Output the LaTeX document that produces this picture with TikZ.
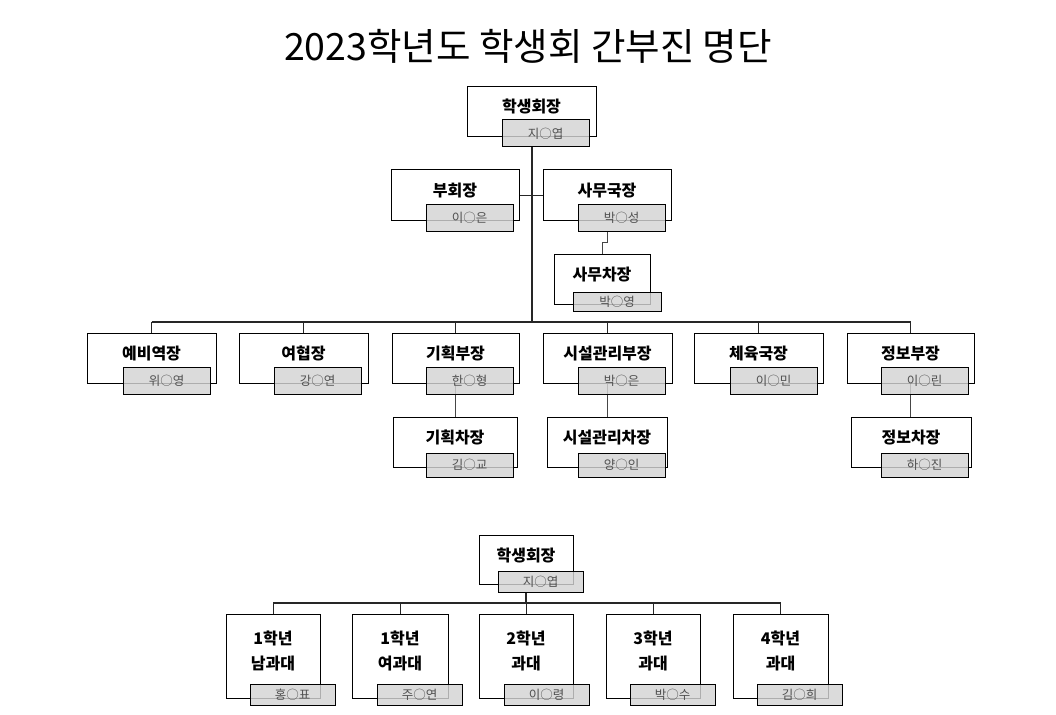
\documentclass[tikz,border=0pt]{standalone}
\usepackage{fontspec}
\setmainfont{Noto Sans CJK KR}
\usetikzlibrary{fit,calc}
\definecolor{boxgray}{RGB}{212,212,212}
\definecolor{namegray}{RGB}{80,80,80}
\definecolor{lineg}{RGB}{70,70,70}
\pgfdeclarelayer{bg}
\pgfdeclarelayer{paper}
\pgfsetlayers{paper,bg,main}
\begin{document}
\begin{tikzpicture}[x=1pt,y=-1pt,
  wbox/.style={draw=black, line width=1pt, fill=white, inner sep=0pt},
  gbox/.style={draw=black, line width=1pt, fill=boxgray, fill opacity=0.82, inner sep=0pt},
  lbl/.style={font=\bfseries\fontsize{16}{18}\selectfont, inner sep=0pt},
  lbl2/.style={font=\bfseries\fontsize{16}{25}\selectfont, inner sep=0pt, align=center},
  nm/.style={font=\fontsize{12.5}{14}\selectfont, text=namegray, inner sep=0pt},
  ttl/.style={font=\fontsize{37.5}{42}\selectfont, inner sep=0pt},
  trunk/.style={line width=2pt, draw=black!85},
  busline/.style={line width=1.4pt, draw=black!85},
  stub/.style={line width=1pt, draw=black!85},
  sub/.style={line width=1pt, draw=lineg},
]
\useasboundingbox (0,0) rectangle (1056,714);
\begin{pgfonlayer}{paper}
\fill[white] (0,0) rectangle (1056,714);
\end{pgfonlayer}

\node[ttl] (title) at (528,46) {2023학년도 학생회 간부진 명단};

% ---- top section: white boxes
\node[wbox, fit={(467,87)(596,137)}] (pres) {};
\node[wbox, fit={(391,170)(519,220)}] (vp) {};
\node[wbox, fit={(543,170)(671,220)}] (sg) {};
\node[wbox, fit={(554,254)(650,304)}] (sc) {};
\node[wbox, fit={(87,333)(216,383)}] (ye) {};
\node[wbox, fit={(239,333)(368,383)}] (yh) {};
\node[wbox, fit={(392,333)(519,383)}] (gh) {};
\node[wbox, fit={(543,333)(672,383)}] (sb) {};
\node[wbox, fit={(694,333)(823,383)}] (ch) {};
\node[wbox, fit={(847,333)(974,383)}] (jb) {};
\node[wbox, fit={(393,417)(517,467)}] (gc) {};
\node[wbox, fit={(547,417)(667,467)}] (scc) {};
\node[wbox, fit={(851,417)(971,467)}] (jc) {};

% ---- gray name boxes
\node[gbox, fit={(502,120)(589,147)}] (presg) {};
\node[gbox, fit={(426,204)(513,231)}] (vpg) {};
\node[gbox, fit={(578,204)(665,231)}] (sgg) {};
\node[gbox, fit={(573,292)(661,311)}] (scg) {};
\node[gbox, fit={(123,367)(210,394)}] (yeg) {};
\node[gbox, fit={(274,367)(361,394)}] (yhg) {};
\node[gbox, fit={(426,367)(513,394)}] (ghg) {};
\node[gbox, fit={(578,367)(665,394)}] (sbg) {};
\node[gbox, fit={(730,367)(817,394)}] (chg) {};
\node[gbox, fit={(881,367)(968,394)}] (jbg) {};
\node[gbox, fit={(426,453)(513,477)}] (gcg) {};
\node[gbox, fit={(578,453)(665,477)}] (sccg) {};
\node[gbox, fit={(881,453)(968,477)}] (jcg) {};

% ---- labels
\node[lbl] (presl) at ($(pres.north)+(0,20)$) {학생회장};
\node[lbl] (vpl) at ($(vp.north)+(0,21)$) {부회장};
\node[lbl] (sgl) at ($(sg.north)+(0,21)$) {사무국장};
\node[lbl] (scl) at ($(sc.north)+(0,21)$) {사무차장};
\node[lbl] (yel) at ($(ye.north)+(0,21)$) {예비역장};
\node[lbl] (yhl) at ($(yh.north)+(0,21)$) {여협장};
\node[lbl] (ghl) at ($(gh.north)+(0,21)$) {기획부장};
\node[lbl] (sbl) at ($(sb.north)+(0,21)$) {시설관리부장};
\node[lbl] (chl) at ($(ch.north)+(0,21)$) {체육국장};
\node[lbl] (jbl) at ($(jb.north)+(0,21)$) {정보부장};
\node[lbl] (gcl) at ($(gc.north)+(0,21)$) {기획차장};
\node[lbl] (sccl) at ($(scc.north)+(0,21)$) {시설관리차장};
\node[lbl] (jcl) at ($(jc.north)+(0,21)$) {정보차장};

% ---- names
\node[nm] (presn) at (presg.center) {지○엽};
\node[nm] (vpn) at (vpg.center) {이○은};
\node[nm] (sgn) at (sgg.center) {박○성};
\node[nm] (scn) at (scg.center) {박○영};
\node[nm] (yen) at (yeg.center) {위○영};
\node[nm] (yhn) at (yhg.center) {강○연};
\node[nm] (ghn) at (ghg.center) {한○형};
\node[nm] (sbn) at (sbg.center) {박○은};
\node[nm] (chn) at (chg.center) {이○민};
\node[nm] (jbn) at (jbg.center) {이○린};
\node[nm] (gcn) at (gcg.center) {김○교};
\node[nm] (sccn) at (sccg.center) {양○인};
\node[nm] (jcn) at (jcg.center) {하○진};

% ---- top connectors
\coordinate (hub) at (531,322);
\begin{pgfonlayer}{bg}
\draw[trunk] (pres.south |- presg.south) -- (pres.south |- hub);
\draw[busline] (ye.north |- hub) -- (jb.north |- hub);
\foreach \b in {ye,yh,gh,sb,ch,jb} \draw[stub] (\b.north) -- (\b.north |- hub);
\draw[stub] (vp.east) -- (sg.west);
\draw[sub] (sg.south |- sgg.south) -- ++(0,11) -| (sc.north);
\draw[sub] (gh.south) -- (gh.south |- gc.north);
\draw[sub] (sb.south) -- (sb.south |- scc.north);
\draw[sub] (jb.south) -- (jb.south |- jc.north);
\end{pgfonlayer}

% ---- bottom section
\node[wbox, fit={(479,535)(573,584)}] (pres2) {};
\node[wbox, fit={(226,614)(320,698)}] (y1m) {};
\node[wbox, fit={(352,614)(448,698)}] (y1f) {};
\node[wbox, fit={(479,614)(573,698)}] (y2) {};
\node[wbox, fit={(606,614)(700,698)}] (y3) {};
\node[wbox, fit={(733,614)(828,698)}] (y4) {};

\node[gbox, fit={(498,571)(583,592)}] (pres2g) {};
\node[gbox, fit={(250,684)(335,705)}] (y1mg) {};
\node[gbox, fit={(377,684)(462,705)}] (y1fg) {};
\node[gbox, fit={(504,684)(589,705)}] (y2g) {};
\node[gbox, fit={(630,684)(715,705)}] (y3g) {};
\node[gbox, fit={(757,684)(842,705)}] (y4g) {};

\node[lbl] (pres2l) at ($(pres2.north)+(0,21)$) {학생회장};
\node[lbl2] (y1ml) at ($(y1m.north)+(0,37)$) {1학년\\남과대};
\node[lbl2] (y1fl) at ($(y1f.north)+(0,37)$) {1학년\\여과대};
\node[lbl2] (y2l) at ($(y2.north)+(0,37)$) {2학년\\과대};
\node[lbl2] (y3l) at ($(y3.north)+(0,37)$) {3학년\\과대};
\node[lbl2] (y4l) at ($(y4.north)+(0,37)$) {4학년\\과대};

\node[nm] (pres2n) at (pres2g.center) {지○엽};
\node[nm] (y1mn) at (y1mg.center) {홍○표};
\node[nm] (y1fn) at (y1fg.center) {주○연};
\node[nm] (y2n) at (y2g.center) {이○령};
\node[nm] (y3n) at (y3g.center) {박○수};
\node[nm] (y4n) at (y4g.center) {김○희};

\coordinate (hub2) at (526,603);
\begin{pgfonlayer}{bg}
\draw[busline] (pres2.south |- pres2g.south) -- (pres2.south |- hub2);
\draw[busline] (y1m.north |- hub2) -- (y4.north |- hub2);
\foreach \b in {y1m,y1f,y2,y3,y4} \draw[stub] (\b.north) -- (\b.north |- hub2);
\end{pgfonlayer}
\end{tikzpicture}
\end{document}
